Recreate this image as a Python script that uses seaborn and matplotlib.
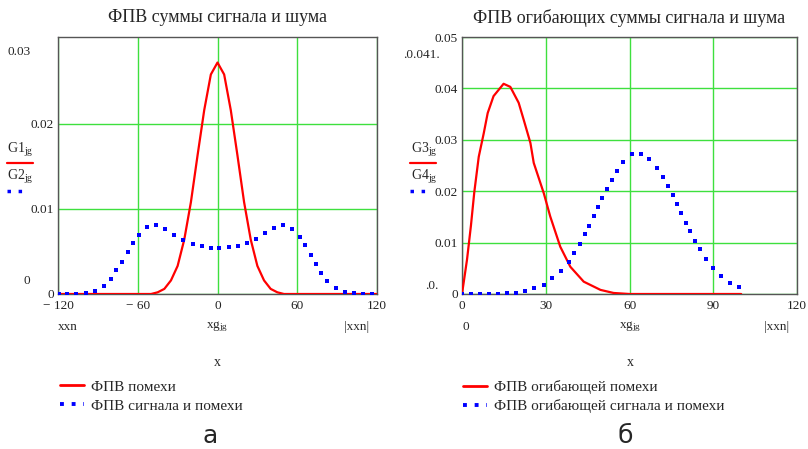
import matplotlib
matplotlib.use("Agg")
import matplotlib.pyplot as plt
from matplotlib.lines import Line2D
import seaborn as sns

# --- data ---
# left panel: pdf of noise (red) and of signal + noise (blue dots)
noise_x = [-120, -60, -50, -45, -40, -35, -30, -25, -20, -15, -10, -5, 0,
           5, 10, 15, 20, 25, 30, 35, 40, 45, 50, 60, 120]
noise_y = [0, 0, 0, 0.0002, 0.0006, 0.0016, 0.0033, 0.0064, 0.0108, 0.0163, 0.0216, 0.0258, 0.0272,
           0.0258, 0.0216, 0.0163, 0.0108, 0.0064, 0.0033, 0.0016, 0.0006, 0.0002, 0, 0, 0]

sum_x = [-119.5, -113.2, -106.4, -99.3, -92.5, -85.7, -80.4, -76.1, -71.6, -67.6,
         -63.5, -59.2, -52.9, -46.4, -39.6, -32.8, -25.7, -18.7, -11.8, -5.0,
         1.5, 8.3, 15.1, 22.2, 29.0, 35.5, 42.4, 49.4, 56.2, 61.8,
         66.1, 70.1, 73.9, 77.6, 82.7, 89.0, 95.8, 102.4, 109.2, 116.2]
sum_y = [0, 0, 0, 0.00012, 0.0003, 0.0009, 0.0018, 0.0028, 0.0038, 0.0049,
         0.0060, 0.0069, 0.0079, 0.0081, 0.0076, 0.0069, 0.0063, 0.0059, 0.0056, 0.0054,
         0.0054, 0.0055, 0.0056, 0.0060, 0.0065, 0.0072, 0.0078, 0.0081, 0.0076, 0.0067,
         0.0057, 0.0046, 0.0035, 0.0025, 0.0015, 0.0007, 0.0002, 0.0001, 0, 0]

# right panel: envelope pdfs
env_noise_x = [0, 1.8, 3.2, 4.4, 6.0, 7.8, 9.2, 11.3, 14.9, 17.3, 20.3, 22.1, 24.5,
               25.7, 29.3, 31.6, 35.2, 38.8, 43.6, 49.6, 54.3, 60, 100]
env_noise_y = [0, 0.0067, 0.0133, 0.0198, 0.0267, 0.0313, 0.0352, 0.0385, 0.0409, 0.0403,
               0.0372, 0.0339, 0.0294, 0.0255, 0.0196, 0.0151, 0.0092, 0.0053, 0.0024,
               0.0008, 0.0002, 0, 0]

env_sum_x = [0, 3.2, 6.6, 9.8, 13.0, 16.1, 19.3, 22.7, 25.9, 29.3, 32.4, 35.3, 38.2, 40.0,
             42.4, 43.9, 45.5, 47.2, 48.7, 50.1, 51.9, 53.7, 55.5, 57.7, 60.8, 64.1, 67.0,
             69.9, 72.0, 73.8, 75.6, 77.0, 78.6, 80.2, 81.8, 83.5, 85.4, 87.5, 89.9, 92.9,
             96.1, 99.3]
env_sum_y = [0, 0, 0, 0, 0, 0.0002, 0.0002, 0.0006, 0.0012, 0.0017, 0.0031, 0.0045, 0.0062,
             0.0080, 0.0098, 0.0116, 0.0133, 0.0152, 0.0169, 0.0186, 0.0205, 0.0222, 0.0239,
             0.0257, 0.0272, 0.0273, 0.0263, 0.0246, 0.0227, 0.0210, 0.0192, 0.0175, 0.0158,
             0.0139, 0.0122, 0.0104, 0.0087, 0.0069, 0.0051, 0.0035, 0.0022, 0.0014]

left_xticks = [-120, -60, 0, 60, 120]
left_xlabels = ["\u2212 120", "\u2212 60", "0", "60", "120"]
left_yticks = [0, 0.01, 0.02]
right_xticks = [0, 30, 60, 90, 120]
right_yticks = [0, 0.01, 0.02, 0.03, 0.04, 0.05]

sns.set_style("white")
plt.rcParams["font.family"] = ["Liberation Serif", "DejaVu Serif"]
plt.rcParams["mathtext.fontset"] = "custom"
plt.rcParams["mathtext.rm"] = "Liberation Serif"
plt.rcParams["mathtext.it"] = "Liberation Serif:italic"

W, H = 808, 449
fig = plt.figure(figsize=(W / 100, H / 100), dpi=100)


def fx(px):
    return px / W


def fy(py):
    return 1 - py / H


GRID = "#3ee03e"
RED = "#ff0000"
BLUE = "#0000ff"

axl = fig.add_axes([fx(58), fy(294), fx(377) - fx(58), fy(37) - fy(294)])
axr = fig.add_axes([fx(462), fy(294), fx(797) - fx(462), fy(37) - fy(294)])

sns.lineplot(x=noise_x, y=noise_y, ax=axl, color=RED, lw=1.6, estimator=None, zorder=3)
sns.scatterplot(x=sum_x, y=sum_y, ax=axl, color=BLUE, marker="s", s=6, linewidth=0, zorder=4)
sns.lineplot(x=env_noise_x, y=env_noise_y, ax=axr, color=RED, lw=1.6, estimator=None, zorder=3)
sns.scatterplot(x=env_sum_x, y=env_sum_y, ax=axr, color=BLUE, marker="s", s=6, linewidth=0, zorder=4)

axl.set_xlim(-120, 120)
axl.set_ylim(0, 0.0302)
axl.set_xticks(left_xticks)
axl.set_xticklabels(left_xlabels)
axl.set_yticks(left_yticks)
axl.set_yticklabels(["0", "0.01", "0.02"])

axr.set_xlim(0, 120)
axr.set_ylim(0, 0.05)
axr.set_xticks(right_xticks)
axr.set_xticklabels([str(v) for v in right_xticks])
axr.set_yticks(right_yticks)
axr.set_yticklabels(["0", "0.01", "0.02", "0.03", "0.04", "0.05"])

for ax in (axl, axr):
    ax.grid(True, color=GRID, lw=1.0)
    ax.set_axisbelow(True)
    ax.tick_params(length=0, labelsize=9.5, pad=3, colors="#222222")
    ax.tick_params(axis="x", pad=4)
    for s in ax.spines.values():
        s.set_color("#555555")
        s.set_linewidth(1.0)
    ax.set_xlabel("")
    ax.set_ylabel("")

# titles
fig.text(fx(217), fy(18), "ФПВ суммы сигнала и шума", ha="center", va="center", fontsize=13)
fig.text(fx(629), fy(18), "ФПВ огибающих суммы сигнала и шума", ha="center", va="center", fontsize=13)

# Mathcad-style axis annotations
fs = 9.5
fig.text(fx(19), fy(52), "0.03", ha="center", va="center", fontsize=fs)
fig.text(fx(27), fy(281), "0", ha="center", va="center", fontsize=fs)
fig.text(fx(20), fy(150), r"G1$_{\mathrm{jg}}$", ha="center", va="center", fontsize=fs + 0.5)
fig.text(fx(20), fy(177), r"G2$_{\mathrm{jg}}$", ha="center", va="center", fontsize=fs + 0.5)
fig.add_artist(Line2D([fx(7), fx(33)], [fy(163), fy(163)], color=RED, lw=1.6))
fig.add_artist(Line2D([fx(7), fx(27)], [fy(191), fy(191)], color=BLUE, lw=2.5,
                      ls=(0, (1, 2.2)), dash_capstyle="butt"))

fig.text(fx(421), fy(55), ".0.041.", ha="center", va="center", fontsize=fs)
fig.text(fx(432), fy(286), ".0.", ha="center", va="center", fontsize=fs)
fig.text(fx(424), fy(150), r"G3$_{\mathrm{jg}}$", ha="center", va="center", fontsize=fs + 0.5)
fig.text(fx(424), fy(177), r"G4$_{\mathrm{jg}}$", ha="center", va="center", fontsize=fs + 0.5)
fig.add_artist(Line2D([fx(410), fx(436)], [fy(163), fy(163)], color=RED, lw=1.6))
fig.add_artist(Line2D([fx(410), fx(430)], [fy(191), fy(191)], color=BLUE, lw=2.5,
                      ls=(0, (1, 2.2)), dash_capstyle="butt"))

# x-axis annotations
fig.text(fx(68), fy(327), "xxn", ha="center", va="center", fontsize=fs)
fig.text(fx(217), fy(327), r"xg$_{\mathrm{jg}}$", ha="center", va="center", fontsize=fs)
fig.text(fx(357), fy(327), "|xxn|", ha="center", va="center", fontsize=fs)
fig.text(fx(217), fy(362), "x", ha="center", va="center", fontsize=fs + 0.5)

fig.text(fx(466), fy(327), "0", ha="center", va="center", fontsize=fs)
fig.text(fx(630), fy(327), r"xg$_{\mathrm{jg}}$", ha="center", va="center", fontsize=fs)
fig.text(fx(777), fy(327), "|xxn|", ha="center", va="center", fontsize=fs)
fig.text(fx(630), fy(362), "x", ha="center", va="center", fontsize=fs + 0.5)

# legends
def make_legend(ax, labels, px, py):
    handles = [Line2D([], [], color=RED, lw=2.0),
               Line2D([], [], color=BLUE, lw=2.8, ls=(0, (1, 2.0)), dash_capstyle="butt")]
    ax.legend(handles, labels, loc="upper left", bbox_to_anchor=(fx(px), fy(py)),
              bbox_transform=fig.transFigure, frameon=False, fontsize=11,
              handlelength=1.6, handletextpad=0.45, labelspacing=0.35,
              borderpad=0, borderaxespad=0)

make_legend(axl, ["ФПВ помехи", "ФПВ сигнала и помехи"], 60, 380)
make_legend(axr, ["ФПВ огибающей помехи", "ФПВ огибающей сигнала и помехи"], 463, 380)

# panel letters
fig.text(fx(210), fy(436), "а", ha="center", va="center", fontsize=18, family="DejaVu Sans")
fig.text(fx(625), fy(436), "б", ha="center", va="center", fontsize=18, family="DejaVu Sans")

fig.savefig("out.png", dpi=100)
